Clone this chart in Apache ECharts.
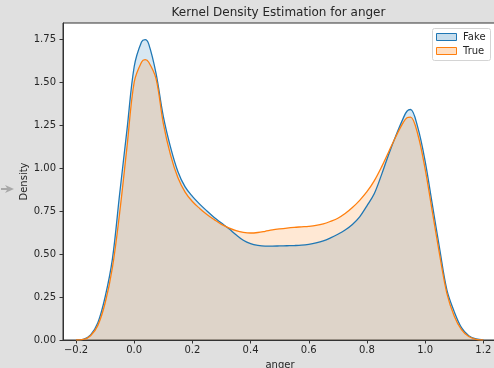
<!DOCTYPE html>
<html>
<head>
<meta charset="utf-8">
<script src="https://cdn.jsdelivr.net/npm/echarts@6/dist/echarts.min.js"></script>
<style>
  html, body { margin: 0; padding: 0; background: #e0e0e0; }
  #chart { width: 494px; height: 368px; }
</style>
</head>
<body>
<div id="chart"></div>
<script>
// Evaluation grid of the kernel density estimate (anger score)
const gridX = [
  -0.2, -0.175, -0.15, -0.125, -0.1, -0.075, -0.05, -0.025,
  0, 0.025, 0.0375, 0.05, 0.075, 0.1, 0.125, 0.15, 0.175, 0.2,
  0.225, 0.25, 0.275, 0.3, 0.325, 0.35, 0.375, 0.4, 0.425, 0.45,
  0.475, 0.5, 0.525, 0.55, 0.575, 0.6, 0.625, 0.65, 0.675, 0.7,
  0.725, 0.75, 0.775, 0.8, 0.825, 0.85, 0.875, 0.9, 0.925, 0.9375,
  0.95, 0.975, 1.0, 1.025, 1.05, 1.075, 1.1, 1.125, 1.15, 1.175, 1.2
];

// Density of the "Fake" group
const fakeDensity = [
  0.000, 0.004, 0.030, 0.100, 0.250, 0.470, 0.850, 1.220,
  1.590, 1.733, 1.746, 1.720, 1.550, 1.300, 1.120, 0.980, 0.890, 0.835,
  0.790, 0.750, 0.712, 0.680, 0.648, 0.612, 0.580, 0.560, 0.550, 0.546,
  0.546, 0.547, 0.548, 0.549, 0.551, 0.556, 0.564, 0.576, 0.594, 0.615,
  0.640, 0.672, 0.716, 0.780, 0.850, 0.960, 1.080, 1.190, 1.290, 1.330,
  1.340, 1.235, 1.040, 0.785, 0.530, 0.290, 0.165, 0.072, 0.025, 0.006, 0.000
];

// Density of the "True" group
const trueDensity = [
  0.000, 0.003, 0.025, 0.085, 0.215, 0.420, 0.740, 1.120,
  1.500, 1.615, 1.630, 1.615, 1.520, 1.260, 1.075, 0.945, 0.860, 0.805,
  0.765, 0.730, 0.700, 0.672, 0.652, 0.636, 0.626, 0.622, 0.625, 0.632,
  0.640, 0.646, 0.651, 0.655, 0.658, 0.661, 0.666, 0.675, 0.690, 0.708,
  0.735, 0.770, 0.812, 0.862, 0.925, 1.005, 1.095, 1.185, 1.265, 1.292,
  1.296, 1.195, 0.995, 0.745, 0.495, 0.270, 0.140, 0.060, 0.020, 0.004, 0.000
];

const xTicks = [-0.2, 0, 0.2, 0.4, 0.6, 0.8, 1.0, 1.2];
const yTicks = [0, 0.25, 0.5, 0.75, 1.0, 1.25, 1.5, 1.75];
const seriesNames = ['Fake', 'True'];

const FONT = 'DejaVu Sans';
const TEXT = '#262626';
const BLUE = '#1f77b4';
const ORANGE = '#ff7f0e';

const toPairs = (ys) => gridX.map((x, i) => [x, ys[i]]);
const minus = (s) => s.replace('-', '\u2212');

const chart = echarts.init(document.getElementById('chart'), null, { renderer: 'canvas' });

chart.setOption({
  backgroundColor: '#e0e0e0',
  animation: false,
  grid: {
    left: 63, top: 23, right: -3, bottom: 28,
    outerBoundsMode: 'none', containLabel: false,
    show: true, backgroundColor: '#ffffff',
    borderColor: '#333333', borderWidth: 1
  },
  xAxis: {
    type: 'value',
    min: -0.2448, max: 1.2471,
    name: 'anger', nameLocation: 'middle', nameGap: 20,
    nameTextStyle: { fontFamily: FONT, fontSize: 10, color: TEXT },
    axisLine: { show: true, onZero: false, lineStyle: { color: '#333333', width: 1 } },
    axisTick: { show: true, customValues: xTicks, length: 3.5, lineStyle: { color: '#333333' } },
    axisLabel: {
      customValues: xTicks, margin: 5,
      fontFamily: FONT, fontSize: 10, color: TEXT,
      formatter: (v) => minus(v.toFixed(1))
    },
    splitLine: { show: false }
  },
  yAxis: {
    type: 'value',
    min: 0, max: 1.843,
    name: 'Density', nameLocation: 'middle', nameGap: 34, nameRotate: 90,
    nameMoveOverlap: false,
    nameTextStyle: { fontFamily: FONT, fontSize: 10, color: TEXT },
    axisLine: { show: true, onZero: false, lineStyle: { color: '#333333', width: 1 } },
    axisTick: { show: true, customValues: yTicks, length: 3.5, lineStyle: { color: '#333333' } },
    axisLabel: {
      customValues: yTicks, margin: 7,
      fontFamily: FONT, fontSize: 10, color: TEXT,
      formatter: (v) => v.toFixed(2)
    },
    splitLine: { show: false }
  },
  series: [
    {
      name: seriesNames[0], type: 'line',
      data: toPairs(fakeDensity),
      smooth: 0.35, symbol: 'none',
      lineStyle: { color: BLUE, width: 1.3 },
      itemStyle: { color: BLUE },
      areaStyle: { color: 'rgba(31,119,180,0.25)' }
    },
    {
      name: seriesNames[1], type: 'line',
      data: toPairs(trueDensity),
      smooth: 0.35, symbol: 'none',
      lineStyle: { color: ORANGE, width: 1.3 },
      itemStyle: { color: ORANGE },
      areaStyle: { color: 'rgba(255,127,14,0.25)' }
    }
  ],
  graphic: [
    {
      type: 'text', x: 278.5, y: 13, z: 10,
      style: {
        text: 'Kernel Density Estimation for anger',
        fontFamily: FONT, fontSize: 12, fill: TEXT,
        align: 'center', verticalAlign: 'middle'
      }
    },
    // legend box
    {
      type: 'rect', z: 20,
      shape: { x: 432.5, y: 28.5, width: 58, height: 32, r: 2 },
      style: { fill: 'rgba(255,255,255,0.8)', stroke: '#d4d4d4', lineWidth: 1 }
    },
    {
      type: 'rect', z: 21,
      shape: { x: 436.5, y: 33.5, width: 20, height: 7 },
      style: { fill: 'rgba(31,119,180,0.25)', stroke: BLUE, lineWidth: 1 }
    },
    {
      type: 'text', x: 463, y: 37, z: 21,
      style: { text: seriesNames[0], fontFamily: FONT, fontSize: 10, fill: TEXT, verticalAlign: 'middle' }
    },
    {
      type: 'rect', z: 21,
      shape: { x: 436.5, y: 47.5, width: 20, height: 7 },
      style: { fill: 'rgba(255,127,14,0.25)', stroke: ORANGE, lineWidth: 1 }
    },
    {
      type: 'text', x: 463, y: 51, z: 21,
      style: { text: seriesNames[1], fontFamily: FONT, fontSize: 10, fill: TEXT, verticalAlign: 'middle' }
    },
    // small pointer at the left margin
    {
      type: 'polygon', z: 10,
      shape: { points: [[1, 188], [7, 188], [5, 185], [14, 189], [5, 193], [7, 190], [1, 190]] },
      style: { fill: '#a8a8a8' }
    }
  ]
});
</script>
</body>
</html>
